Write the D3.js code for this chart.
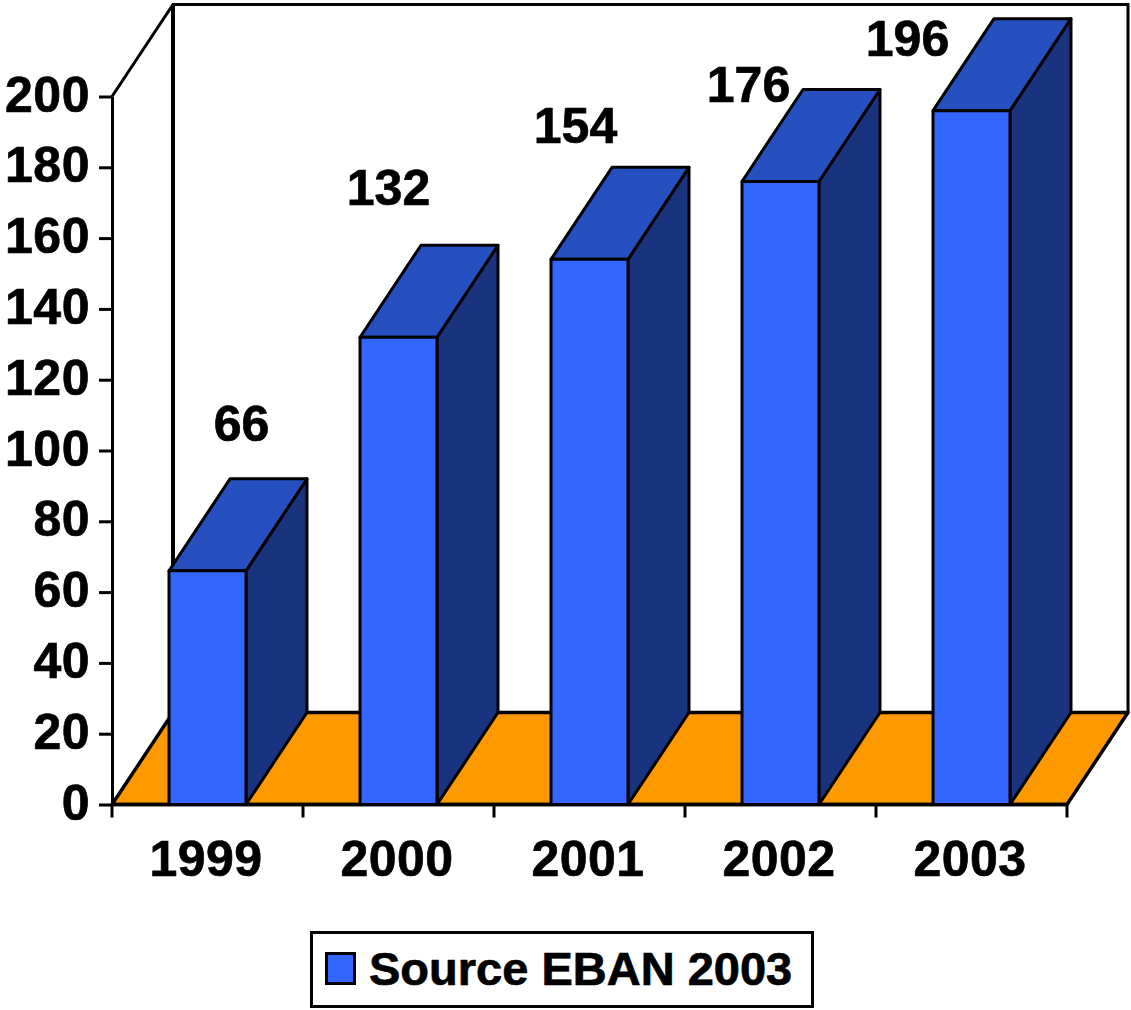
<!DOCTYPE html>
<html>
<head>
<meta charset="utf-8">
<script src="https://cdn.jsdelivr.net/npm/d3@7"></script>
<style>
html,body{margin:0;padding:0;background:#fff;}
svg{display:block;}
text{font-family:"Liberation Sans",Arial,sans-serif;font-weight:bold;fill:#000;stroke:#000;stroke-width:0.7px;}
</style>
</head>
<body>
<div id="chart"></div>
<script>
const years = ["1999","2000","2001","2002","2003"];
const sourceValues = [66,132,154,176,196];
const yTicks = [0,20,40,60,80,100,120,140,160,180,200];
const seriesName = "Source EBAN 2003";
// Hand placement of the value labels relative to each bar's rear top edge
const labelShiftX = [34,-10,-14,-32,-64];
const labelShiftY = [-38,-40,-24,13,37];

const W = 1131, H = 1010;
const x0 = 112, x1 = 1067, yBase = 804.5, yTop = 96.5;
const depthX = 61, depthY = -92;
const LINE = 3;

const colors = {front:"#3366ff", top:"#2650bf", side:"#19337f", floor:"#ff9900"};

const x = d3.scaleBand().domain(years).range([x0,x1]).paddingInner(0.597).paddingOuter(0.2985);
const y = d3.scaleLinear().domain([0,200]).range([yBase,yTop]);

const svg = d3.select("#chart").append("svg").attr("width",W).attr("height",H);
const poly = pts => "M" + pts.map(p=>p.join(",")).join("L") + "Z";

// Floor and rear walls of the 3D box
svg.append("path")
  .attr("d",poly([[x0,yBase],[x0+depthX,yBase+depthY],[x1+depthX,yBase+depthY],[x1,yBase]]))
  .attr("fill",colors.floor).attr("stroke","#000").attr("stroke-width",LINE+0.5).attr("stroke-linejoin","round");
svg.append("path")
  .attr("d",`M${x0},${yTop}L${x0+depthX},${yTop+depthY}L${x1+depthX},${yTop+depthY}L${x1+depthX},${yBase+depthY}`)
  .attr("fill","none").attr("stroke","#000").attr("stroke-width",LINE);
svg.append("line")
  .attr("x1",x0+depthX).attr("x2",x0+depthX).attr("y1",yTop+depthY).attr("y2",yBase+depthY)
  .attr("stroke","#000").attr("stroke-width",LINE+1);

// Value axis
const yAxis = d3.axisLeft(y).tickValues(yTicks).tickSize(13).tickPadding(10).tickSizeOuter(0);
const gy = svg.append("g").attr("transform",`translate(${x0},0)`).call(yAxis);
gy.attr("font-family",null).attr("font-size",null);
gy.selectAll("path,line").attr("stroke","#000").attr("stroke-width",LINE);
gy.selectAll("text").attr("font-size",50).attr("fill","#000").attr("dx",1).attr("y",-1.5).style("letter-spacing","0.5px");

// Category axis
const tickPositions = d3.range(years.length+1).map(i=>x0+i*x.step());
svg.append("g").selectAll("line").data(tickPositions).join("line")
  .attr("x1",d=>d).attr("x2",d=>d).attr("y1",yBase).attr("y2",yBase+13)
  .attr("stroke","#000").attr("stroke-width",LINE);
svg.append("line").attr("x1",x0).attr("x2",x1).attr("y1",yBase).attr("y2",yBase)
  .attr("stroke","#000").attr("stroke-width",LINE+0.5);
svg.append("g").selectAll("text").data(years).join("text")
  .attr("x",d=>x(d)+x.bandwidth()/2-1.5).attr("y",876)
  .attr("text-anchor","middle").attr("font-size",50).style("letter-spacing","0.5px").text(d=>d);

// Bars: side and top faces first, front face over them
const data = years.map((year,i)=>({year,value:sourceValues[i],i}));
const bars = svg.append("g").selectAll("g").data(data).join("g")
  .attr("stroke","#000").attr("stroke-width",LINE).attr("stroke-linejoin","round");
bars.append("path").attr("fill",colors.side).attr("d",d=>{
  const r=x(d.year)+x.bandwidth(), t=y(d.value);
  return poly([[r,yBase],[r,t],[r+depthX,t+depthY],[r+depthX,yBase+depthY]]);
});
bars.append("path").attr("fill",colors.top).attr("d",d=>{
  const l=x(d.year), r=l+x.bandwidth(), t=y(d.value);
  return poly([[l,t],[l+depthX,t+depthY],[r+depthX,t+depthY],[r,t]]);
});
bars.append("rect").attr("fill",colors.front)
  .attr("x",d=>x(d.year)).attr("width",x.bandwidth())
  .attr("y",d=>y(d.value)).attr("height",d=>yBase-y(d.value));

// Value labels
svg.append("g").selectAll("text").data(data).join("text")
  .attr("x",d=>x(d.year)+x.bandwidth()/2+labelShiftX[d.i])
  .attr("y",d=>y(d.value)+depthY+labelShiftY[d.i])
  .attr("text-anchor","middle").attr("font-size",50).text(d=>d.value);

// Legend
const legend = svg.append("g");
legend.append("rect").attr("x",311.5).attr("y",932.5).attr("width",501).attr("height",74)
  .attr("fill","#fff").attr("stroke","#000").attr("stroke-width",LINE);
legend.append("rect").attr("x",326.5).attr("y",953.5).attr("width",28).attr("height",30)
  .attr("fill",colors.front).attr("stroke","#000").attr("stroke-width",LINE);
legend.append("text").attr("x",369).attr("y",985).attr("font-size",47).text(seriesName);
</script>
</body>
</html>
